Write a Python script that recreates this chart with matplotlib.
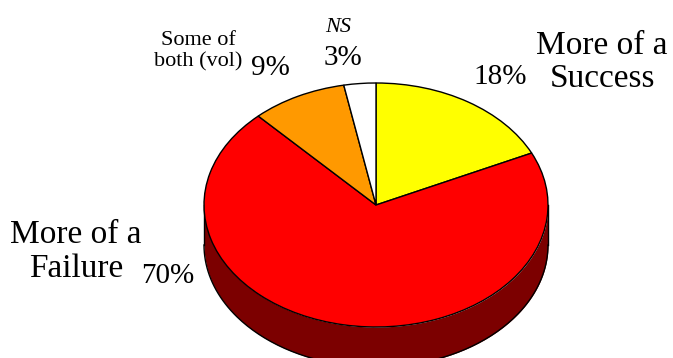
import numpy as np
import matplotlib

matplotlib.use("Agg")
import matplotlib.pyplot as plt

plt.rcParams["font.family"] = ["Liberation Serif", "DejaVu Serif"]

shares = [18, 70, 9, 3]
slice_colors = ["#ffff00", "#ff0000", "#ff9900", "#ffffff"]
rim_color = "#7c0000"

WIDTH, HEIGHT = 673, 358
CX, CY = 376, 205
RX, RY = 172, 122
DEPTH = 40 / RY


def put(x, y, s, size, **kw):
    # x is the text centre, y the baseline, both in pixels from the top-left corner
    fig.text(x / WIDTH, 1 - y / HEIGHT, s, fontsize=size, color="black",
             ha="center", va="baseline", **kw)


fig = plt.figure(figsize=(WIDTH / 100, HEIGHT / 100), dpi=100)
ax = fig.add_axes([0, 0, 1, 1])

# front wall of the disc, lower half of the ellipse pushed down
t = np.linspace(np.pi, 2 * np.pi, 200)
ax.fill_between(np.cos(t), np.sin(t), np.sin(t) - DEPTH, color=rim_color, lw=0, zorder=1)
ax.plot(np.cos(t), np.sin(t) - DEPTH, color="black", lw=1, zorder=2)
ax.plot([-1, -1], [0, -DEPTH], color="black", lw=1, zorder=2)
ax.plot([1, 1], [0, -DEPTH], color="black", lw=1, zorder=2)

wedges, _ = ax.pie(
    shares,
    colors=slice_colors,
    startangle=90,
    counterclock=False,
    wedgeprops={"edgecolor": "black", "linewidth": 1},
)
for w in wedges:
    w.set_zorder(3)

ax.set_aspect("auto")
ax.set_xlim(-CX / RX, (WIDTH - CX) / RX)
ax.set_ylim((CY - HEIGHT) / RY, CY / RY)
ax.axis("off")

put(602, 54, "More of a", 24)
put(602, 87, "Success", 24)
put(500, 84, f"{shares[0]}%", 21)

put(76, 243, "More of a", 24)
put(76, 277, "Failure", 24)
put(168, 283, f"{shares[1]}%", 21)

put(198, 45, "Some of", 16)
put(198, 66, "both (vol)", 16)
put(270, 75, f"{shares[2]}%", 21)

put(338, 32, "NS", 16, style="italic")
put(343, 65, f"{shares[3]}%", 21)

fig.savefig("out.png", dpi=100)
